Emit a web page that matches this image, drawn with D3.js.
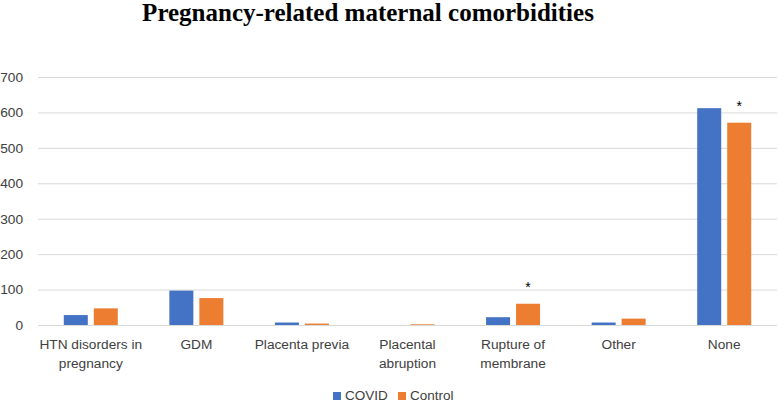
<!DOCTYPE html>
<html><head><meta charset="utf-8">
<script src="https://cdn.jsdelivr.net/npm/d3@7"></script>
<style>body{margin:0;background:#fff}svg{display:block}</style>
</head><body>
<script>
const categories = [["HTN disorders in","pregnancy"],["GDM"],["Placenta previa"],["Placental","abruption"],["Rupture of","membrane"],["Other"],["None"]];
const covid = [28, 97, 7, 0, 22, 7, 612];
const control = [47, 76, 4, 2, 60, 18, 571];
const significant = [false, false, false, false, true, false, true];
const yTicks = [0,100,200,300,400,500,600,700];
const seriesNames = ["COVID","Control"];
const colors = ["#4472C4","#ED7D31"];

const W = 778, H = 403;
const svg = d3.select("body").append("svg").attr("width", W).attr("height", H);
const font = "'Liberation Sans', Arial, sans-serif";

const x = d3.scaleBand().domain(d3.range(categories.length)).range([38, 777]);
const y = d3.scaleLinear().domain([0, 700]).range([325, 77]);

svg.append("text").attr("x", 368).attr("y", 21).attr("text-anchor","middle")
  .attr("font-family","'Liberation Serif','Times New Roman',serif").attr("font-weight","bold")
  .attr("font-size", 25).attr("fill","#000").text("Pregnancy-related maternal comorbidities");

// grid
const yAxis = d3.axisLeft(y).tickValues(yTicks).tickSize(-(777-38)).tickPadding(15);
const gy = svg.append("g").attr("transform","translate(38,0)").call(yAxis);
gy.select(".domain").remove();
gy.selectAll(".tick line").attr("stroke","#d9d9d9").attr("stroke-width",1);
gy.selectAll(".tick text").attr("font-family",font).attr("font-size",13.7).attr("fill","#404040");

const bw = 24, gap = 6;
const groups = svg.append("g");
[covid, control].forEach((vals, s) => {
  groups.selectAll(".b"+s).data(vals).enter().append("rect")
    .attr("x", (d,i) => x(i) + x.bandwidth()/2 + (s === 0 ? -gap/2 - bw : gap/2))
    .attr("y", d => y(d)).attr("width", bw).attr("height", d => y(0) - y(d))
    .attr("fill", colors[s]);
});

// asterisks
svg.selectAll(".ast").data(control.map((v,i)=>({v,i})).filter(d=>significant[d.i])).enter()
  .append("text").attr("x", d => x(d.i) + x.bandwidth()/2 + gap/2 + bw/2)
  .attr("y", d => y(d.v) - 12).attr("text-anchor","middle")
  .attr("font-family",font).attr("font-size",14).attr("fill","#000").text("*");

// x labels
const xl = svg.selectAll(".xl").data(categories).enter().append("text")
  .attr("x", (d,i) => x(i) + x.bandwidth()/2).attr("y", 349).attr("text-anchor","middle")
  .attr("font-family",font).attr("font-size",13.7).attr("fill","#404040");
xl.each(function(d){
  const t = d3.select(this);
  d.forEach((line, k) => t.append("tspan").attr("x", t.attr("x")).attr("dy", k === 0 ? 0 : 19).text(line));
});

// legend
const legX = [333, 398];
seriesNames.forEach((n, s) => {
  svg.append("rect").attr("x", legX[s]).attr("y", 392).attr("width", 8).attr("height", 8).attr("fill", colors[s]);
  svg.append("text").attr("x", legX[s] + 12).attr("y", 400).attr("font-family",font)
    .attr("font-size",13.5).attr("fill","#404040").text(n);
});
</script>
</body></html>
